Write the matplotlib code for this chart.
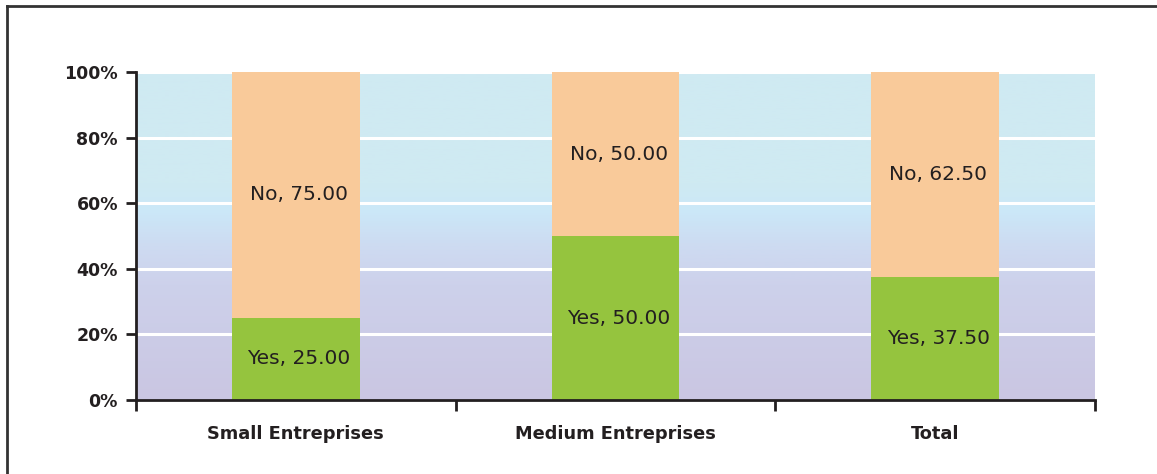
import matplotlib
matplotlib.use("Agg")
import matplotlib.pyplot as plt
import numpy as np
from matplotlib.colors import LinearSegmentedColormap
from matplotlib.lines import Line2D

categories = ["Small Entreprises", "Medium Entreprises", "Total"]
yes_values = [25.00, 50.00, 37.50]
no_values = [75.00, 50.00, 62.50]
y_ticks = [0, 20, 40, 60, 80, 100]

green = "#95c43e"
peach = "#f9ca9a"
ink = "#231f20"

plt.rcParams["font.family"] = ["DejaVu Sans"]

fig = plt.figure(figsize=(11.57, 4.74), dpi=100)
ax = fig.add_axes([136 / 1157, 1 - 400 / 474, 959 / 1157, 328 / 474])

x = np.arange(len(categories))
ax.set_xlim(-0.5, len(categories) - 0.5)
ax.set_ylim(0, 100)

# soft vertical background: lavender at the bottom, pale cyan at the top
bg = LinearSegmentedColormap.from_list("bg", [
    (0.0, "#cac6e2"), (0.35, "#cdd1eb"), (0.48, "#cddcf2"),
    (0.58, "#cbe8f8"), (0.66, "#cfeaf2"), (1.0, "#cfeaf2")])
grad = np.linspace(0, 1, 256).reshape(-1, 1)
ax.imshow(grad, cmap=bg, origin="lower", aspect="auto",
          extent=(-0.5, len(categories) - 0.5, 0, 100), zorder=0)

for t in y_ticks[1:]:
    ax.axhline(t, color="white", lw=2.2, zorder=1)

ax.bar(x, yes_values, width=0.4, color=green, zorder=2)
ax.bar(x, no_values, width=0.4, bottom=yes_values, color=peach, zorder=2)

for i in range(len(categories)):
    ax.text(x[i] + 0.01, yes_values[i] / 2, f"Yes, {yes_values[i]:.2f}",
            ha="center", va="center", fontsize=14.5, color=ink, zorder=3)
    ax.text(x[i] + 0.01, yes_values[i] + no_values[i] / 2, f"No, {no_values[i]:.2f}",
            ha="center", va="center", fontsize=14.5, color=ink, zorder=3)

for side in ("top", "right"):
    ax.spines[side].set_visible(False)
for side in ("left", "bottom"):
    ax.spines[side].set_color(ink)
    ax.spines[side].set_linewidth(2)

ax.set_yticks(y_ticks)
ax.set_yticklabels([f"{t}%" for t in y_ticks], fontsize=12.5, fontweight="bold", color=ink)
ax.tick_params(axis="y", length=7, width=2, color=ink, pad=6)

# category names sit between the boundary ticks
ax.set_xticks(np.arange(len(categories) + 1) - 0.5)
ax.set_xticklabels([])
ax.set_xticks(x, minor=True)
ax.set_xticklabels(categories, minor=True, fontsize=12.8, fontweight="bold", color=ink)
ax.tick_params(axis="x", which="major", length=8, width=2, color=ink)
ax.tick_params(axis="x", which="minor", length=0, pad=18)

# outer frame (only top and left edges fall inside the image)
fig.add_artist(Line2D([7 / 1157, 7 / 1157], [0, 1 - 6 / 474], transform=fig.transFigure,
                      color="#333333", lw=2))
fig.add_artist(Line2D([7 / 1157, 1], [1 - 6 / 474, 1 - 6 / 474], transform=fig.transFigure,
                      color="#333333", lw=2))

fig.savefig("out.png", dpi=100)
